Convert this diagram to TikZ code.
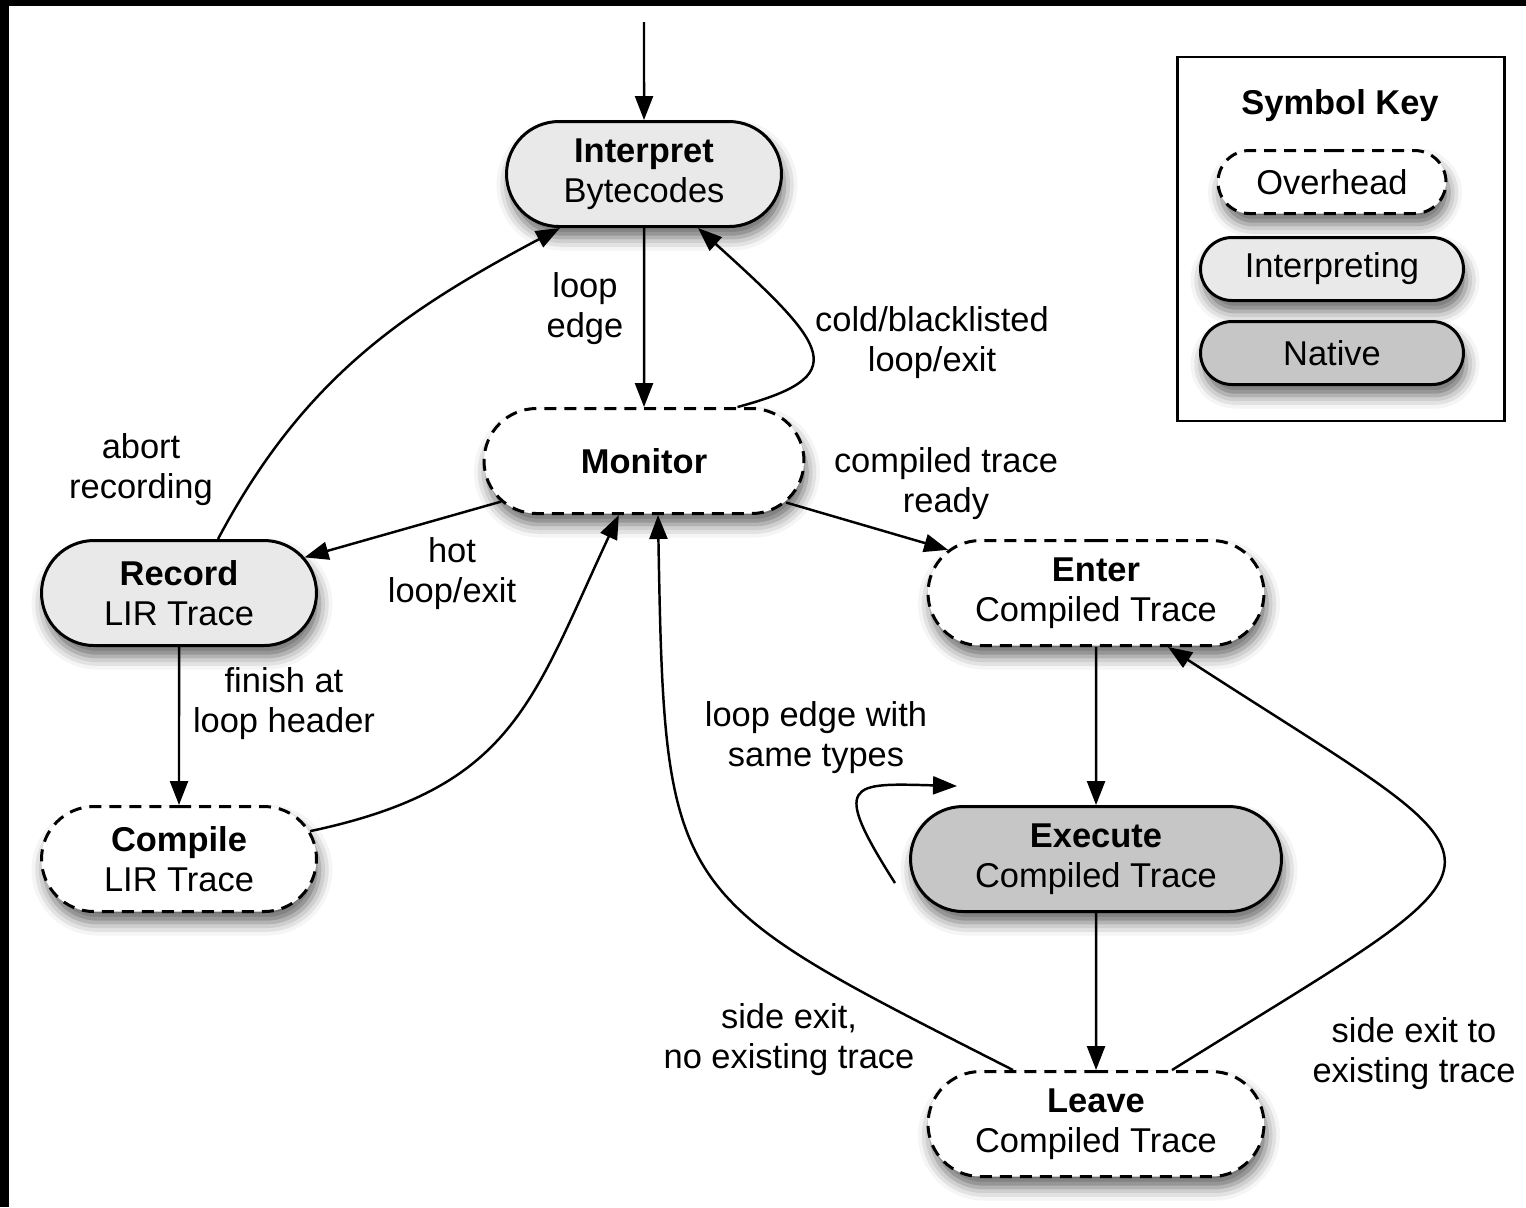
\documentclass[tikz,border=0pt]{standalone}
\usepackage{fontspec}
\setmainfont{Liberation Sans}
\usetikzlibrary{arrows.meta, positioning, calc, shapes.misc, shadows.blur}

\definecolor{interpfill}{HTML}{E9E9E9}
\definecolor{nativefill}{HTML}{C6C6C6}

\tikzset{
  phase/.style={rounded rectangle, draw, line width=0.85pt, align=center,
    minimum width=28.2mm, minimum height=10.5mm, inner sep=1pt,
    blur shadow={shadow xshift=0.3mm, shadow yshift=-1.1mm, shadow blur radius=1.3mm, shadow opacity=60}},
  overhead/.style={phase, fill=white, dash pattern=on 1.2mm off 0.8mm},
  interpreting/.style={phase, fill=interpfill},
  native/.style={phase, fill=nativefill},
  keyitem/.style={minimum width=27mm, minimum height=6.3mm},
  lbl/.style={align=center, inner sep=0pt},
  flow/.style={line width=0.7pt, -{Triangle[length=2.4mm, width=1.8mm]}},
}

\begin{document}
\begin{tikzpicture}[x=0.1mm, y=-0.1mm, font=\fontsize{9.8pt}{11.4pt}\selectfont]
\useasboundingbox (0,0) rectangle (1526,1207);
\fill[black] (0,0) rectangle (1526,6);
\fill[black] (0,0) rectangle (9,1207);

% Nodes
\node[interpreting] (interp) at (644,174) {\textbf{Interpret}\\Bytecodes};
\node[overhead, minimum width=32.7mm] (monitor) at (644,461) {\textbf{Monitor}};
\node[interpreting] (record) at (179,593) {\textbf{Record}\\LIR Trace};
\node[overhead] (compile) at (179,859) {\textbf{Compile}\\LIR Trace};
\node[overhead, minimum width=34.3mm] (enter) at (1096,593) {\textbf{Enter}\\Compiled Trace};
\node[native, minimum width=37.8mm] (execute) at (1096,859) {\textbf{Execute}\\Compiled Trace};
\node[overhead, minimum width=34.3mm] (leave) at (1096,1124) {\textbf{Leave}\\Compiled Trace};
\coordinate (start) at (644,22);

% Symbol key
\node[draw, line width=0.75pt, minimum width=32.7mm, minimum height=36.4mm] (keybox) at (1341,239) {};
\node[font=\fontsize{9.8pt}{11.4pt}\selectfont\bfseries] (keytitle) at (1340,106) {Symbol Key};
\node[overhead, keyitem, minimum width=23.5mm] (keyover) at (1332,182) {Overhead};
\node[interpreting, keyitem] (keyinterp) at (1332,269) {Interpreting};
\node[native, keyitem] (keynative) at (1332,353) {Native};

% Arrows
\draw[flow] (start) -- (interp);
\draw[flow] (interp) -- (monitor);
\draw[flow] (monitor.30) .. controls +(115,-31) and +(133,120) .. (interp.-45);
\draw[flow] (monitor) -- (record);
\draw[flow] (monitor) -- (enter);
\draw[flow] ($(record.north)+(39,0)$) to[out=62, in=-152] ($(interp.south)+(-84,0)$);
\draw[flow] (record) -- (compile);
\draw[flow] (compile) to[out=12, in=245, looseness=1.2] (monitor);
\draw[flow] (enter) -- (execute);
\draw[flow] (execute) -- (leave);
\draw[flow] ($(execute.center)+(-201,24)$) .. controls +(-65,-102) and +(-107,-3) .. ($(execute.center)+(-139,-73)$);
\draw[flow] ($(leave.north)+(-83,0)$) to[out=153, in=-89, looseness=1.5] ($(monitor.south)+(14,0)$);
\draw[flow] ($(leave.north)+(76,0)$) to[out=32, in=-33, looseness=2.6] ($(enter.south)+(72,0)$);

% Labels
\node[lbl] (l-loopedge) at (585,309) {loop\\edge};
\node[lbl] (l-cold) at (932,343) {cold/blacklisted\\loop/exit};
\node[lbl] (l-abort) at (141,470) {abort\\recording};
\node[lbl] (l-hot) at (452,574) {hot\\loop/exit};
\node[lbl] (l-ready) at (946,484) {compiled trace\\ready};
\node[lbl] (l-finish) at (284,704) {finish at\\loop header};
\node[lbl] (l-same) at (816,738) {loop edge with\\same types};
\node[lbl] (l-noexist) at (789,1040) {side exit,\\no existing trace};
\node[lbl] (l-exist) at (1414,1054) {side exit to\\existing trace};
\end{tikzpicture}
\end{document}
